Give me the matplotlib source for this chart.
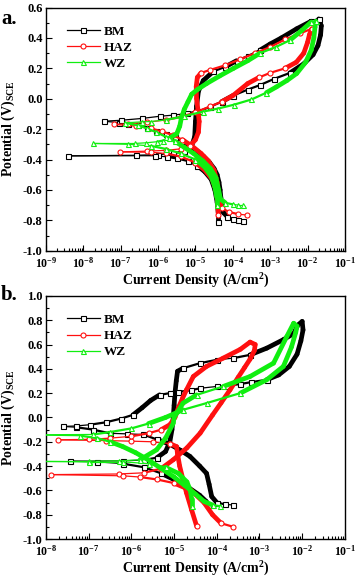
import numpy as np
import matplotlib
matplotlib.use('Agg')
import matplotlib.pyplot as plt
from matplotlib.collections import LineCollection
from matplotlib.lines import Line2D
from matplotlib.ticker import FixedLocator, MultipleLocator, FuncFormatter, NullFormatter

plt.rcParams['font.family'] = 'Liberation Serif'
plt.rcParams['font.weight'] = 'bold'
plt.rcParams['mathtext.fontset'] = 'custom'
plt.rcParams['mathtext.rm'] = 'Liberation Serif:bold'
plt.rcParams['mathtext.it'] = 'Liberation Serif:bold'
plt.rcParams['mathtext.bf'] = 'Liberation Serif:bold'
plt.rcParams['axes.unicode_minus'] = False

# ---- panel a : log10 current density (A/cm2) and potential (V vs SCE) ----
bm_a_logj = [-3.72, -3.85, -4.0, -4.15, -4.25, -4.3, -4.32, -4.34, -4.37, -4.42, -4.5, -4.62, -4.78, -4.95,
             -5.15, -5.35, -5.55, -5.8, -6.05, -6.3, -6.55, -6.8, -7.05, -7.46,
             -7.0, -6.44, -5.94, -5.59, -5.23, -4.88, -4.61, -4.3, -4.0, -3.6, -3.27, -2.9, -2.47, -2.1,
             -1.85, -1.72, -1.65, -1.63, -1.7,
             -1.9, -2.29, -2.7, -3.0, -3.27, -3.6, -3.9, -4.2, -4.52, -4.79, -4.92, -4.97, -5.0, -5.02,
             -5.1, -5.3, -5.6, -6.0, -6.6, -8.42,
             -6.08, -5.77, -5.5, -5.2, -4.95, -4.75, -4.58, -4.48, -4.42, -4.39, -4.39]
bm_a_e = [-0.805, -0.80, -0.79, -0.775, -0.75, -0.70, -0.65, -0.60, -0.55, -0.50, -0.46, -0.42, -0.38, -0.345,
          -0.31, -0.28, -0.255, -0.23, -0.21, -0.19, -0.175, -0.165, -0.157, -0.148,
          -0.142, -0.13, -0.115, -0.108, -0.097, -0.08, -0.053, -0.02, 0.02, 0.06, 0.09, 0.13, 0.17, 0.23,
          0.29, 0.35, 0.42, 0.48, 0.525,
          0.51, 0.46, 0.40, 0.36, 0.32, 0.28, 0.25, 0.21, 0.18, 0.12, 0.05, -0.05, -0.15, -0.25,
          -0.31, -0.345, -0.36, -0.368, -0.372, -0.376,
          -0.375, -0.382, -0.393, -0.41, -0.44, -0.48, -0.53, -0.60, -0.68, -0.75, -0.81]

haz_a_logj = [-3.63, -3.85, -4.1, -4.3, -4.38, -4.42, -4.5, -4.65, -4.85, -5.1, -5.35, -5.6, -5.9, -6.2, -6.6, -7.19,
              -6.8, -6.3, -5.8, -5.4, -5.0, -4.6, -4.3, -4.0, -3.6, -3.3, -3.0, -2.6, -2.3, -2.1, -2.0, -1.95, -1.89,
              -2.2, -2.6, -3.0, -3.4, -3.8, -4.2, -4.6, -4.85, -4.95, -4.98, -4.97, -4.93, -4.9, -4.92, -5.0,
              -5.15, -5.4, -5.8, -6.3, -7.03,
              -6.2, -5.8, -5.4, -5.0, -4.75, -4.55, -4.45, -4.4, -4.39]
haz_a_e = [-0.765, -0.76, -0.745, -0.72, -0.65, -0.55, -0.47, -0.41, -0.36, -0.31, -0.27, -0.24, -0.215, -0.195, -0.18, -0.169,
           -0.165, -0.155, -0.14, -0.12, -0.09, -0.05, -0.02, 0.02, 0.10, 0.14, 0.17, 0.20, 0.24, 0.30, 0.37, 0.42, 0.46,
           0.43, 0.39, 0.34, 0.30, 0.26, 0.22, 0.19, 0.17, 0.14, 0.08, 0.0, -0.08, -0.15, -0.22, -0.27,
           -0.31, -0.33, -0.34, -0.345, -0.35,
           -0.352, -0.36, -0.38, -0.42, -0.47, -0.53, -0.60, -0.68, -0.765]

wz_a_logj = [-3.73, -3.85, -4.0, -4.2, -4.33, -4.38, -4.45, -4.6, -4.8, -5.05, -5.3, -5.55, -5.8, -6.05, -6.3, -6.55, -6.88,
             -6.44, -6.2, -5.8, -5.3, -4.8, -4.4, -3.98, -3.5, -3.1, -2.83, -2.55, -2.29, -2.05, -1.9, -1.83, -1.8, -1.78,
             -1.9, -2.15, -2.47, -2.85, -3.27, -3.6, -3.98, -4.35, -4.7, -4.95, -5.1, -5.2, -5.3, -5.38, -5.42,
             -5.5, -5.7, -5.86, -6.03, -6.32, -6.61, -7.73,
             -6.8, -6.2, -5.8, -5.4, -5.0, -4.75, -4.58, -4.48, -4.43, -4.43]
wz_a_e = [-0.70, -0.70, -0.695, -0.685, -0.66, -0.60, -0.52, -0.46, -0.41, -0.36, -0.32, -0.28, -0.25, -0.22, -0.195, -0.175, -0.159,
          -0.152, -0.15, -0.14, -0.115, -0.085, -0.065, -0.04, -0.005, 0.04, 0.078, 0.12, 0.166, 0.24, 0.32, 0.40, 0.47, 0.51,
          0.505, 0.45, 0.385, 0.34, 0.30, 0.25, 0.20, 0.15, 0.10, 0.06, 0.03, -0.02, -0.07, -0.13, -0.18,
          -0.23, -0.26, -0.275, -0.283, -0.29, -0.294, -0.294,
          -0.30, -0.31, -0.33, -0.36, -0.40, -0.45, -0.51, -0.58, -0.65, -0.70]

# ---- panel b ----
bm_b_logj = [-3.61, -3.8, -4.0, -4.12, -4.18, -4.24, -4.4, -4.63, -4.85, -5.1, -5.41, -5.73, -6.1, -6.51, -6.9, -7.3, -7.6,
             -7.3, -6.98, -6.6, -6.25, -5.96, -5.75, -5.55, -5.34, -5.1, -4.9, -4.6, -4.39, -4.0, -3.77, -3.45, -3.2,
             -2.83, -2.55, -2.3, -2.12, -2.03, -1.98, -2.0,
             -2.1, -2.2, -2.44, -2.83, -3.22, -3.61, -4.0, -4.39, -4.79, -4.92, -4.95, -4.98, -5.0, -5.02, -5.05,
             -5.1, -5.2, -5.4, -5.7, -6.2, -7.43,
             -6.8, -6.2, -5.7, -5.3, -4.95, -4.65, -4.4, -4.25, -4.2]
bm_b_e = [-0.72, -0.715, -0.70, -0.65, -0.55, -0.46, -0.40, -0.32, -0.27, -0.22, -0.18, -0.14, -0.135, -0.13, -0.10, -0.08, -0.074,
          -0.07, -0.06, -0.04, -0.01, 0.022, 0.08, 0.14, 0.186, 0.20, 0.21, 0.225, 0.24, 0.255, 0.26, 0.275, 0.29,
          0.31, 0.35, 0.42, 0.52, 0.63, 0.72, 0.79,
          0.76, 0.69, 0.64, 0.57, 0.515, 0.488, 0.474, 0.447, 0.405, 0.38, 0.30, 0.20, 0.10, 0.0, -0.10,
          -0.20, -0.28, -0.33, -0.35, -0.357, -0.36,
          -0.365, -0.38, -0.41, -0.46, -0.52, -0.58, -0.64, -0.69, -0.72]

haz_b_logj = [-4.47, -4.59, -4.71, -4.8, -4.87, -4.92, -4.94, -5.1, -5.5, -6.0, -6.6, -7.73,
              -7.0, -6.5, -6.0, -5.6, -5.3, -5.1, -4.98, -4.9, -4.8, -4.71, -4.55, -4.24, -3.85, -3.45, -3.22,
              -3.1, -3.12, -3.22, -3.35, -3.5, -3.69, -3.9, -4.1, -4.39, -4.7, -5.02, -5.3, -5.7, -6.3, -7.88,
              -6.2, -5.8, -5.4, -5.0, -4.6, -4.3, -4.1, -3.9, -3.61]
haz_b_e = [-0.896, -0.76, -0.62, -0.50, -0.40, -0.30, -0.24, -0.215, -0.20, -0.195, -0.19, -0.184,
           -0.18, -0.17, -0.155, -0.13, -0.10, -0.06, 0.0, 0.08, 0.16, 0.227, 0.337, 0.42, 0.488, 0.56, 0.62,
           0.60, 0.55, 0.48, 0.41, 0.33, 0.227, 0.12, 0.02, -0.129, -0.25, -0.348, -0.42, -0.455, -0.465, -0.47,
           -0.48, -0.49, -0.51, -0.54, -0.60, -0.70, -0.80, -0.87, -0.90]

wz_b_logj = [-3.92, -4.1, -4.3, -4.5, -4.75, -5.0, -5.3, -5.6, -5.9, -6.2, -6.5, -6.8, -7.2, -8.51,
             -6.9, -6.5, -6.0, -5.6, -5.2, -4.79, -4.24, -3.45, -2.83, -2.44, -2.25, -2.15, -2.12, -2.2,
             -2.36, -2.67, -3.22, -3.85, -4.47, -4.79, -5.0, -5.02, -5.2, -5.41, -5.8, -6.3, -7.0, -8.6,
             -7.0, -6.2, -5.6, -5.2, -4.9, -4.7, -4.62, -4.59, -4.59]
wz_b_e = [-0.73, -0.72, -0.69, -0.63, -0.56, -0.49, -0.42, -0.35, -0.29, -0.24, -0.20, -0.17, -0.15, -0.143,
          -0.14, -0.12, -0.09, -0.05, 0.0, 0.063, 0.118, 0.20, 0.31, 0.42, 0.58, 0.70, 0.75, 0.775,
          0.666, 0.447, 0.337, 0.255, 0.186, 0.118, 0.0, -0.047, -0.17, -0.266, -0.348, -0.357, -0.36, -0.36,
          -0.365, -0.365, -0.38, -0.41, -0.46, -0.53, -0.60, -0.67, -0.73]

labels = ['BM', 'HAZ', 'WZ']
colors = ['black', '#ff1010', '#10ee10']
markers = ['s', 'o', '^']


def draw(ax, series):
    # steep parts of a scan look like solid bands (markers pile up), flat parts show single markers
    for k, ((logj, e), c, m) in enumerate(zip(series, colors, markers)):
        logj = np.asarray(logj)
        e = np.asarray(e)
        x = 10 ** logj
        slope = np.abs(np.diff(logj)) / np.maximum(np.abs(np.diff(e)), 1e-4)
        lw = np.where(slope < 8, 3.4, np.where(slope < 25, 1.6, 0.9))
        segs = [[(x[i], e[i]), (x[i + 1], e[i + 1])] for i in range(len(x) - 1)]
        lc = LineCollection(segs, colors=c, linewidths=lw, capstyle='round', zorder=2 + k)
        ax.add_collection(lc)
        thick = lw > 3
        keep = np.ones(len(x), bool)
        keep[1:-1] = ~(thick[:-1] & thick[1:])
        ax.plot(x[keep], e[keep], ls='none', marker=m, ms=3.6, mfc='white', mec=c, mew=0.8, zorder=2 + k)


def style(ax, decades, ylim):
    ax.set_xscale('log')
    ax.set_xlim(10.0 ** decades[0], 10.0 ** decades[-1])
    ax.set_ylim(*ylim)
    ax.xaxis.set_major_locator(FixedLocator(10.0 ** np.array(decades)))
    minor = [s * 10.0 ** d for d in decades[:-1] for s in range(2, 10)]
    ax.xaxis.set_minor_locator(FixedLocator(minor))
    ax.xaxis.set_minor_formatter(NullFormatter())
    ax.xaxis.set_major_formatter(FuncFormatter(lambda v, p: r'$10^{%d}$' % round(np.log10(v))))
    ax.yaxis.set_major_locator(MultipleLocator(0.2))
    ax.yaxis.set_minor_locator(MultipleLocator(0.1))
    ax.yaxis.set_major_formatter(FuncFormatter(lambda v, p: '%.1f' % v))
    ax.tick_params(which='both', direction='in', top=False, right=False, width=0.8)
    ax.tick_params(axis='x', labelsize=8.5)
    ax.tick_params(axis='y', labelsize=9, pad=2.5)
    ax.tick_params(which='major', length=4)
    ax.tick_params(which='minor', length=2)
    for s in ax.spines.values():
        s.set_linewidth(1.0)
    ax.set_xlabel('Current Density (A/cm$^2$)', fontsize=10, fontweight='bold', labelpad=1)
    ax.set_ylabel('Potential (V)$_{\\mathrm{SCE}}$', fontsize=10, fontweight='bold')
    ax.yaxis.set_label_coords(-0.098, 0.5)
    handles = [Line2D([], [], color=c, lw=0.9, marker=m, ms=3.6, mfc='white', mec=c, mew=0.8)
               for c, m in zip(colors, markers)]
    ax.legend(handles, labels, loc='upper left', bbox_to_anchor=(0.03, 0.975), frameon=False, fontsize=9.5,
              handlelength=2.5, handletextpad=0.3, labelspacing=0.3, numpoints=1)


fig = plt.figure(figsize=(3.57, 5.79), dpi=100)
ax1 = fig.add_axes([0.129, 0.567, 0.837, 0.420])
ax2 = fig.add_axes([0.129, 0.069, 0.837, 0.420])

draw(ax1, [(bm_a_logj, bm_a_e), (haz_a_logj, haz_a_e), (wz_a_logj, wz_a_e)])
style(ax1, list(range(-9, 0)), (-1.0, 0.6))
draw(ax2, [(bm_b_logj, bm_b_e), (haz_b_logj, haz_b_e), (wz_b_logj, wz_b_e)])
style(ax2, list(range(-8, 0)), (-1.0, 1.0))

fig.text(0.003, 0.985, 'a.', fontsize=15, fontweight='bold', va='top')
fig.text(0.003, 0.508, 'b.', fontsize=15, fontweight='bold', va='top')

fig.savefig('out.png', dpi=100)
